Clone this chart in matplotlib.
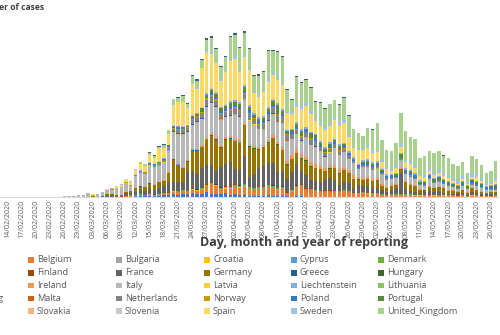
import matplotlib
matplotlib.use("Agg")
import matplotlib.pyplot as plt
from matplotlib.patches import Rectangle
import numpy as np
from datetime import date, timedelta

# ---------------------------------------------------------------------------
# Data: daily reported COVID-19 cases by country (EU/EEA and the UK)
# Every list starts on DATA_START and runs to AXIS_END (94 days).
# ---------------------------------------------------------------------------
AXIS_START = date(2019, 12, 31)
AXIS_END = date(2020, 5, 27)
DATA_START = date(2020, 2, 24)

AUSTRIA = [0, 2, 0, 1, 2, 4, 5,  4, 6, 6, 10, 12, 15, 20,  30, 50, 60, 115, 150, 150, 300,
           200, 300, 350, 400, 600, 350, 600,  600, 900, 600, 700, 1100, 700, 560,
           540, 800, 500, 560, 400, 420, 300,  250, 300, 250, 330, 250, 200, 180,
           120, 90, 120, 140, 100, 80, 70,  70, 60, 70, 70, 50, 70, 60,
           50, 50, 50, 70, 50, 60, 50,  30, 30, 50, 50, 50, 50, 30,
           30, 20, 30, 30, 30, 30, 30,  20, 20, 30, 20, 30, 20, 20,  20, 20, 20]
BELGIUM = [0, 0, 0, 0, 0, 0, 1,  0, 6, 5, 10, 60, 60, 60,  40, 60, 47, 85, 200, 130, 200,
           170, 185, 243, 309, 462, 558, 586,  342, 526, 668, 800, 1049, 1850, 1702,
           1063, 876, 1189, 1384, 1422, 1661, 1260,  1123, 1209, 1380, 1580, 1684, 1351, 1629,
           530, 1000, 1900, 2000, 1236, 1329, 1045,  900, 933, 973, 834, 900, 1032, 933,
           553, 647, 701, 600, 600, 500, 400,  300, 400, 300, 400, 350, 300, 250,
           250, 200, 300, 250, 300, 250, 200,  200, 200, 200, 150, 250, 250, 200,  200, 200, 250]
BULGARIA = [0, 0, 0, 0, 0, 0, 0,  0, 0, 0, 0, 0, 0, 4,  0, 0, 2, 1, 20, 10, 10,
            10, 20, 20, 10, 20, 20, 20,  20, 20, 20, 30, 30, 20, 20,
            20, 20, 30, 30, 40, 30, 30,  30, 30, 30, 30, 30, 30, 20,
            20, 20, 30, 30, 30, 30, 30,  30, 30, 30, 40, 30, 30, 30,
            30, 30, 30, 30, 30, 30, 30,  20, 30, 30, 30, 30, 20, 20,
            20, 20, 20, 20, 20, 20, 20,  20, 20, 20, 20, 20, 20, 20,  20, 20, 20]
CROATIA = [0, 1, 2, 0, 1, 0, 1,  0, 2, 0, 1, 1, 1, 1,  1, 2, 2, 2, 5, 6, 10,
           20, 8, 8, 20, 25, 80, 60,  80, 60, 60, 50, 50, 80, 70,
           50, 80, 70, 60, 70, 60, 40,  40, 50, 30, 40, 40, 40, 50,
           30, 20, 40, 40, 30, 20, 30,  20, 20, 20, 20, 15, 20, 10,
           10, 10, 10, 10, 10, 5, 10,  5, 5, 5, 5, 5, 5, 3,
           3, 3, 3, 3, 3, 2, 2,  2, 2, 2, 2, 2, 2, 2,  1, 1, 1]
CYPRUS = [0, 0, 0, 0, 0, 0, 0,  0, 0, 0, 0, 0, 0, 0,  2, 0, 0, 3, 6, 10, 10,
          7, 11, 12, 30, 10, 20, 20,  20, 20, 20, 30, 20, 20, 20,
          20, 30, 20, 30, 40, 30, 20,  30, 20, 20, 20, 30, 20, 20,
          10, 10, 10, 10, 10, 10, 10,  10, 10, 10, 5, 5, 5, 5,
          5, 5, 5, 5, 5, 5, 5,  3, 3, 3, 3, 3, 3, 3,
          2, 2, 2, 2, 2, 2, 2,  2, 2, 2, 2, 2, 2, 2,  2, 2, 2]
DENMARK = [0, 0, 0, 0, 1, 0, 0,  0, 0, 3, 5, 10, 8, 15,  20, 80, 250, 180, 130, 60, 40,
           40, 70, 70, 80, 80, 100, 100,  100, 100, 100, 150, 200, 150, 100,
           200, 250, 250, 350, 300, 300, 300,  250, 300, 350, 350, 250, 200, 200,
           150, 250, 200, 150, 200, 200, 150,  150, 200, 150, 200, 150, 160, 140,
           150, 140, 160, 150, 130, 150, 140,  100, 110, 150, 140, 150, 130, 130,
           100, 110, 100, 70, 80, 70, 60,  70, 50, 50, 60, 50, 50, 40,  50, 50, 50]
ESTONIA = [0, 0, 0, 0, 0, 0, 0,  0, 0, 1, 1, 2, 2, 0,  2, 3, 3, 10, 20, 20, 40,
           50, 30, 10, 50, 40, 30, 50,  20, 30, 40, 30, 40, 40, 40,
           30, 30, 30, 40, 40, 40, 30,  30, 30, 20, 30, 20, 20, 30,
           20, 20, 20, 20, 20, 20, 20,  10, 20, 10, 10, 20, 10, 10,
           5, 10, 5, 5, 10, 5, 5,  5, 5, 5, 5, 5, 5, 5,
           5, 3, 3, 3, 3, 3, 3,  3, 3, 3, 2, 2, 2, 2,  2, 2, 2]
FINLAND = [0, 0, 0, 0, 0, 0, 0,  1, 1, 3, 1, 4, 3, 8,  10, 10, 20, 20, 50, 40, 70,
           30, 50, 40, 40, 50, 70, 60,  50, 70, 80, 90, 60, 100, 70,
           100, 80, 100, 100, 100, 100, 100,  80, 70, 150, 120, 110, 120, 100,
           80, 80, 100, 150, 130, 120, 100,  100, 90, 120, 100, 140, 100, 80,
           80, 60, 100, 120, 100, 80, 70,  50, 60, 80, 70, 60, 50, 40,
           40, 60, 50, 60, 40, 50, 30,  40, 30, 30, 40, 30, 30, 20,  20, 20, 20]
FRANCE = [2, 2, 5, 4, 20, 40, 30,  30, 61, 13, 81, 200, 276, 177,  83, 575, 497, 595, 785, 838, 924,
          800, 1097, 1404, 1861, 1617, 1847, 1559,  3838, 3500, 2931, 3922, 3809, 3500, 2599,
          3900, 4500, 4861, 3100, 3000, 5500, 1873,  2800, 3777, 3881, 4286, 4342, 3114, 3000,
          2673, 3500, 4200, 2633, 2641, 1600, 1800,  1800, 2000, 2500, 2200, 1000, 1600, 1500,
          1000, 1500, 1200, 1300, 800, 900, 600,  500, 800, 1100, 4000, 1000, 600, 500,
          300, 500, 600, 500, 500, 400, 300,  300, 400, 500, 100, 600, 400, 300,  200, 300, 300]
GERMANY = [0, 2, 10, 20, 20, 30, 60,  40, 30, 52, 80, 250, 200, 150,  240, 202, 281, 802, 693, 733, 1043,
           1000, 1144, 1042, 2000, 4528, 3300, 2660,  1948, 4062, 4764, 4118, 4954, 5780, 6294,
           3965, 4751, 4615, 5453, 5300, 6174, 6082,  5000, 3677, 3834, 4003, 4974, 5323, 4133,
           2821, 2537, 2082, 2486, 2866, 2600, 2500,  2458, 1775, 1785, 2237, 2352, 2337, 2055,
           1737, 1018, 1144, 1304, 1478, 1639, 945,  793, 679, 685, 947, 1284, 1209, 1251,
           667, 357, 933, 798, 933, 913, 620,  583, 342, 513, 460, 745, 638, 431,  289, 432, 362]
GREECE = [0, 0, 1, 0, 2, 0, 0,  0, 3, 0, 2, 10, 20, 20,  4, 10, 20, 30, 50, 20, 100,
          30, 50, 50, 30, 40, 70, 100,  70, 50, 80, 50, 70, 70, 90,
          50, 70, 60, 40, 100, 80, 60,  60, 40, 50, 60, 50, 60, 40,
          40, 30, 30, 20, 20, 25, 20,  10, 15, 20, 20, 15, 10, 10,
          10, 12, 8, 10, 15, 10, 10,  10, 10, 12, 8, 10, 10, 8,
          5, 10, 8, 10, 8, 5, 5,  5, 5, 5, 3, 5, 5, 5,  5, 3, 3]
HUNGARY = [0, 0, 0, 0, 0, 0, 0,  0, 0, 2, 0, 2, 0, 3,  3, 2, 3, 3, 6, 5, 13,
           7, 11, 11, 23, 30, 12, 24,  20, 20, 40, 40, 30, 40, 40,
           20, 50, 45, 60, 40, 30, 40,  60, 70, 60, 100, 80, 80, 70,
           60, 50, 100, 90, 100, 70, 60,  60, 50, 80, 100, 90, 80, 60,
           50, 40, 80, 50, 50, 40, 30,  40, 30, 30, 40, 40, 30, 30,
           20, 30, 30, 30, 30, 20, 20,  20, 20, 20, 30, 20, 20, 20,  10, 20, 20]
ICELAND = [0, 0, 0, 0, 0, 0, 0,  1, 2, 5, 10, 10, 10, 5,  20, 20, 15, 20, 20, 20, 20,
           20, 30, 30, 20, 20, 50, 50,  80, 80, 70, 70, 90, 80, 90,
           80, 70, 60, 70, 80, 50, 60,  30, 30, 30, 20, 30, 20, 20,
           10, 10, 10, 10, 10, 10, 5,  5, 5, 3, 3, 2, 2, 1,
           1, 1, 1, 1, 0, 1, 0,  0, 0, 1, 0, 0, 0, 0,
           0, 0, 1, 0, 0, 0, 0,  0, 0, 0, 1, 0, 0, 0,  0, 0, 0]
IRELAND = [0, 0, 0, 0, 0, 0, 1,  0, 1, 0, 4, 1, 8, 5,  2, 4, 10, 9, 27, 20, 40,
           40, 40, 70, 190, 100, 126, 100,  200, 200, 200, 250, 300, 300, 300,
           200, 300, 300, 400, 400, 400, 300,  400, 350, 350, 400, 500, 450, 500,
           550, 800, 700, 800, 700, 800, 700,  500, 600, 400, 600, 900, 500, 400,
           700, 400, 400, 300, 300, 300, 300,  200, 200, 200, 150, 200, 200, 200,
           100, 100, 100, 100, 100, 100, 60,  60, 50, 60, 50, 60, 50, 40,  40, 40, 40]
ITALY = [70, 77, 93, 125, 205, 238, 240,  566, 342, 466, 587, 769, 778, 1247,
         1492, 1797, 977, 2313, 2651, 2547, 3497,  3590, 3233, 3526, 4207, 5322, 5986, 6557,
         5560, 4789, 5249, 5210, 6153, 5959, 5974,  5217, 4050, 4053, 4782, 4668, 4585, 4805,
         4316, 3599, 3039, 3836, 4204, 3951, 4694,  4092, 3153, 2972, 2667, 3786, 3493, 3491,
         3047, 2256, 2729, 3370, 2646, 3021, 2357,  2324, 1739, 2091, 2086, 1872, 1965, 1900,
         1389, 1221, 1075, 1444, 1401, 1327, 1083,  802, 744, 1402, 888, 992, 789, 875,
         675, 451, 813, 665, 642, 652, 669,  531, 300, 397]
LATVIA = [0, 0, 0, 0, 0, 0, 0,  0, 0, 1, 0, 0, 0, 1,  0, 4, 4, 5, 5, 10, 20,
          20, 20, 20, 30, 20, 30, 20,  20, 20, 30, 30, 20, 30, 20,
          20, 20, 30, 20, 20, 20, 20,  20, 20, 10, 20, 20, 20, 10,
          10, 10, 10, 10, 10, 10, 10,  10, 10, 10, 10, 10, 10, 10,
          5, 5, 10, 5, 5, 5, 5,  5, 5, 5, 5, 5, 5, 5,
          5, 5, 5, 3, 3, 3, 3,  3, 3, 3, 3, 3, 3, 3,  3, 3, 3]
LIECHTENSTEIN = [0, 0, 0, 0, 0, 0, 0,  0, 0, 0, 0, 0, 0, 0,  0, 0, 0, 0, 1, 1, 2,
                 2, 3, 2, 3, 5, 5, 5,  5, 5, 5, 5, 5, 5, 3,
                 3, 3, 3, 3, 2, 2, 2,  1, 1, 1, 1, 1, 1, 1,
                 1, 0, 1, 0, 0, 1, 0,  0, 0, 0, 1, 0, 0, 0,
                 0, 0, 0, 0, 0, 0, 0,  0, 0, 0, 0, 0, 0, 0,
                 0, 0, 0, 0, 0, 0, 0,  0, 0, 0, 0, 0, 0, 0,  0, 0, 0]
LITHUANIA = [0, 0, 0, 0, 0, 0, 0,  0, 0, 0, 0, 0, 0, 1,  0, 0, 2, 0, 1, 5, 4,
             10, 10, 10, 20, 20, 20, 30,  30, 30, 40, 40, 50, 30, 40,
             40, 40, 40, 40, 40, 50, 30,  40, 30, 40, 40, 40, 40, 30,
             20, 30, 30, 30, 20, 20, 20,  20, 20, 20, 20, 20, 20, 10,
             10, 10, 10, 10, 10, 10, 10,  10, 10, 10, 10, 10, 10, 10,
             10, 10, 10, 5, 5, 5, 5,  5, 5, 5, 5, 5, 5, 5,  5, 5, 5]
LUXEMBOURG = [0, 0, 0, 0, 0, 0, 0,  0, 0, 0, 0, 1, 2, 1,  0, 2, 2, 3, 12, 12, 20,
              30, 60, 60, 140, 120, 150, 180,  150, 150, 180, 140, 190, 180, 150,
              180, 150, 100, 150, 130, 120, 100,  70, 60, 80, 90, 70, 60, 80,
              60, 50, 30, 40, 60, 50, 40,  20, 30, 30, 20, 30, 20, 20,
              10, 10, 20, 15, 10, 20, 15,  10, 12, 10, 8, 10, 10, 9,
              5, 10, 5, 10, 5, 5, 5,  5, 6, 5, 5, 4, 5, 5,  5, 5, 5]
MALTA = [0, 0, 0, 0, 0, 0, 0,  0, 0, 0, 0, 0, 1, 2,  0, 1, 3, 0, 6, 6, 6,
         10, 10, 10, 10, 10, 20, 10,  10, 10, 10, 10, 10, 20, 10,
         10, 10, 10, 10, 10, 10, 10,  10, 10, 10, 10, 10, 10, 10,
         5, 5, 5, 5, 5, 5, 5,  5, 5, 5, 5, 3, 3, 3,
         3, 3, 3, 3, 3, 3, 3,  3, 3, 3, 3, 3, 3, 3,
         3, 2, 2, 2, 2, 2, 2,  2, 2, 2, 2, 2, 2, 2,  2, 2, 2]
NETHERLANDS = [0, 0, 0, 1, 1, 5, 3,  8, 6, 14, 20, 45, 80, 60,  70, 60, 100, 120, 190, 155, 176,
               278, 292, 346, 409, 534, 637, 573,  545, 811, 852, 1019, 1172, 1159, 1104,
               884, 845, 1019, 1083, 1026, 904, 1224,  952, 777, 969, 1213, 1130, 1316, 1321,
               1174, 964, 867, 734, 1061, 1140, 1066,  750, 750, 729, 770, 887, 655, 655,
               400, 171, 386, 386, 514, 475, 335,  335, 199, 232, 450, 230, 320, 230,
               200, 200, 200, 190, 250, 200, 200,  170, 90, 190, 200, 230, 200, 200,  160, 150, 170]
NORWAY = [0, 0, 0, 0, 1, 0, 3,  10, 8, 20, 30, 60, 80, 30,  30, 50, 150, 100, 200, 150, 150,
          100, 100, 100, 200, 200, 200, 200,  200, 200, 200, 250, 300, 350, 250,
          250, 250, 250, 250, 200, 200, 200,  150, 150, 150, 100, 100, 100, 100,
          80, 60, 60, 70, 60, 70, 50,  50, 40, 60, 50, 40, 50, 40,
          50, 30, 30, 30, 20, 30, 30,  20, 20, 30, 20, 20, 20, 20,
          20, 10, 10, 10, 10, 10, 10,  10, 10, 10, 10, 10, 10, 10,  10, 10, 10]
POLAND = [0, 0, 0, 0, 0, 0, 0,  0, 0, 1, 0, 4, 1, 5,  5, 6, 9, 20, 30, 40, 40,
          50, 60, 60, 70, 100, 100, 100,  100, 150, 150, 170, 200, 250, 230,
          200, 250, 250, 250, 400, 400, 450,  300, 400, 350, 350, 350, 350, 300,
          250, 300, 400, 300, 400, 350, 500,  400, 250, 350, 300, 350, 400, 300,
          300, 300, 300, 400, 350, 400, 300,  300, 400, 350, 300, 300, 300, 350,
          300, 350, 300, 300, 300, 350, 350,  300, 250, 350, 250, 400, 400, 400,  300, 400, 400]
PORTUGAL = [0, 0, 0, 0, 0, 0, 0,  2, 2, 4, 3, 5, 8, 10,  9, 11, 12, 20, 30, 60, 80,
            100, 130, 200, 200, 240, 260, 320,  230, 300, 300, 500, 550, 700, 800,
            790, 650, 1000, 800, 750, 850, 750,  450, 700, 700, 600, 800, 1500, 600,
            350, 350, 600, 750, 200, 650, 600,  400, 500, 500, 400, 600, 400, 200,
            200, 180, 300, 400, 300, 200, 200,  100, 150, 200, 500, 300, 500, 300,
            200, 300, 200, 250, 300, 200, 200,  150, 200, 200, 150, 250, 250, 200,  150, 200, 300]
ROMANIA = [0, 0, 0, 0, 0, 0, 0,  0, 0, 1, 1, 0, 3, 2,  2, 3, 5, 10, 20, 20, 30,
           30, 40, 40, 40, 60, 70, 60,  70, 150, 100, 150, 250, 250, 300,
           200, 250, 300, 300, 350, 300, 300,  300, 300, 400, 350, 350, 350, 400,
           300, 250, 400, 400, 300, 350, 300,  400, 350, 400, 300, 350, 250, 300,
           300, 250, 350, 300, 300, 350, 300,  300, 300, 300, 300, 300, 250, 250,
           250, 200, 200, 200, 200, 200, 200,  150, 150, 150, 150, 150, 150, 150,  150, 150, 150]
SLOVAKIA = [0, 0, 0, 0, 0, 0, 0,  0, 0, 0, 0, 1, 0, 2,  1, 3, 3, 5, 10, 10, 30,
            10, 30, 20, 30, 20, 30, 30,  20, 30, 20, 20, 20, 40, 30,
            30, 40, 40, 40, 40, 30, 30,  30, 30, 40, 40, 40, 30, 20,
            20, 20, 20, 30, 20, 20, 10,  10, 10, 10, 10, 10, 10, 5,
            5, 5, 5, 5, 5, 5, 5,  5, 5, 3, 3, 3, 3, 3,
            3, 3, 3, 3, 3, 3, 3,  3, 2, 2, 2, 2, 2, 2,  2, 2, 2]
SLOVENIA = [0, 0, 0, 0, 0, 0, 0,  0, 0, 0, 1, 2, 5, 4,  9, 6, 8, 30, 50, 40, 40,
            30, 30, 40, 30, 40, 40, 60,  30, 40, 50, 50, 30, 50, 30,
            30, 40, 40, 40, 40, 30, 30,  20, 20, 20, 20, 30, 20, 20,
            20, 10, 20, 10, 20, 10, 10,  10, 10, 10, 10, 10, 5, 5,
            5, 5, 5, 5, 5, 5, 5,  3, 3, 2, 3, 2, 3, 2,
            2, 2, 3, 2, 2, 2, 2,  2, 2, 2, 2, 2, 2, 2,  2, 2, 2]
SPAIN = [0, 4, 3, 7, 8, 20, 30,  36, 45, 57, 37, 141, 100, 300,  400, 622, 582, 869, 1300, 1159, 1407,
         1200, 2700, 2100, 2162, 4053, 4800, 4964,  3394, 6368, 4749, 7800, 8271, 6800, 5800,
         5100, 6500, 7967, 8195, 6000, 5600, 6969,  4000, 4000, 4700, 5000, 4900, 4576, 4830,
         3300, 3000, 3045, 4000, 4200, 3500, 2500,  3000, 3300, 3200, 3600, 3500, 4000, 2900,
         1729, 2700, 1900, 2200, 1800, 1800, 1300,  1000, 600, 900, 1100, 1200, 1300, 1100,
         800, 600, 700, 600, 600, 500, 500,  400, 300, 500, 300, 500, 800, 400,  300, 300, 600]
SWEDEN = [0, 0, 0, 1, 0, 1, 7,  1, 1, 15, 20, 26, 37, 24,  40, 50, 100, 150, 120, 100, 150,
          100, 100, 130, 150, 200, 150, 150,  100, 200, 250, 250, 300, 400, 300,
          330, 300, 450, 500, 450, 450, 400,  350, 400, 500, 700, 500, 500, 400,
          300, 350, 700, 500, 600, 700, 600,  400, 500, 500, 700, 800, 600, 400,
          300, 400, 600, 700, 600, 500, 400,  300, 300, 600, 700, 600, 600, 500,
          300, 400, 600, 500, 600, 600, 600,  400, 500, 600, 300, 700, 600, 600,  300, 300, 600]
UNITED_KINGDOM = [0, 0, 0, 2, 5, 3, 12,  13, 4, 11, 34, 30, 48, 43,  67, 48, 61, 83, 134, 208, 342,
                  251, 152, 407, 676, 1000, 714, 1035,  665, 1400, 1427, 1452, 2129, 2885, 2546,
                  2433, 2619, 4300, 4324, 4244, 4450, 3735,  3000, 3802, 3634, 5491, 4344, 5195, 5288,
                  4342, 2500, 5252, 4603, 4617, 4500, 3300,  4200, 3800, 3800, 3300, 3500, 4500, 3800,
                  3500, 3000, 2300, 3300, 4100, 5300, 4000,  3500, 3600, 4406, 6111, 5614, 4649, 5200,
                  3400, 3877, 3403, 3900, 3900, 3560, 3451,  2978, 3000, 2684, 1800, 3400, 3000, 2700,
                  2100, 2200, 3500]
CZECHIA = [0, 0, 0, 0, 0, 0, 0,  3, 0, 2, 3, 7, 4, 7,  8, 10, 20, 30, 30, 50, 100,
           100, 100, 80, 60, 100, 150, 200,  200, 150, 250, 250, 250, 400, 250,
           250, 200, 300, 300, 250, 250, 200,  200, 250, 200, 250, 200, 250, 200,
           200, 150, 200, 250, 150, 150, 150,  100, 100, 150, 100, 100, 100, 50,
           50, 60, 50, 40, 50, 50, 40,  40, 40, 40, 50, 40, 40, 30,
           30, 30, 30, 30, 30, 30, 30,  30, 20, 30, 20, 30, 30, 20,  20, 20, 20]

# Names shown in the legend, in stacking order (bottom to top)
COUNTRIES = ["Austria", "Belgium", "Bulgaria", "Croatia", "Cyprus", "Denmark",
             "Estonia", "Finland", "France", "Germany", "Greece", "Hungary",
             "Iceland", "Ireland", "Italy", "Latvia", "Liechtenstein", "Lithuania",
             "Luxembourg", "Malta", "Netherlands", "Norway", "Poland", "Portugal",
             "Romania", "Slovakia", "Slovenia", "Spain", "Sweden", "United_Kingdom"]

SERIES = {
    "Austria": AUSTRIA, "Belgium": BELGIUM, "Bulgaria": BULGARIA, "Croatia": CROATIA,
    "Cyprus": CYPRUS, "Denmark": DENMARK, "Estonia": ESTONIA, "Finland": FINLAND,
    "France": FRANCE, "Germany": GERMANY, "Greece": GREECE, "Hungary": HUNGARY,
    "Iceland": ICELAND, "Ireland": IRELAND, "Italy": ITALY, "Latvia": LATVIA,
    "Liechtenstein": LIECHTENSTEIN, "Lithuania": LITHUANIA, "Luxembourg": LUXEMBOURG,
    "Malta": MALTA, "Netherlands": NETHERLANDS, "Norway": NORWAY, "Poland": POLAND,
    "Portugal": PORTUGAL, "Romania": ROMANIA, "Slovakia": SLOVAKIA, "Slovenia": SLOVENIA,
    "Spain": SPAIN, "Sweden": SWEDEN, "United_Kingdom": UNITED_KINGDOM, "Czechia": CZECHIA,
}

COLORS = {
    "Austria": "#4472C4", "Belgium": "#ED7D31", "Bulgaria": "#A5A5A5", "Croatia": "#FFC000",
    "Cyprus": "#5B9BD5", "Denmark": "#70AD47", "Estonia": "#264478", "Finland": "#9E480E",
    "France": "#636363", "Germany": "#997300", "Greece": "#255E91", "Hungary": "#43682B",
    "Iceland": "#698ED0", "Ireland": "#F1975A", "Italy": "#B7B7B7", "Latvia": "#FFCD33",
    "Liechtenstein": "#7CAFDD", "Lithuania": "#8CC168", "Luxembourg": "#335AA1",
    "Malta": "#D26012", "Netherlands": "#848484", "Norway": "#CC9A00", "Poland": "#327DC2",
    "Portugal": "#5A8A39", "Romania": "#8FAADC", "Slovakia": "#F4B183", "Slovenia": "#C9C9C9",
    "Spain": "#FFD966", "Sweden": "#9DC3E6", "United_Kingdom": "#A9D18E", "Czechia": "#3E5C7E",
}
STACK_ORDER = COUNTRIES + ["Czechia"]

# ---------------------------------------------------------------------------
# Layout, in pixels of a 500 x 335 canvas
# ---------------------------------------------------------------------------
W_PX, H_PX, DPI = 500, 335, 100
DAY_PX = 4.74                 # width of one day on the category axis
LAST_CENTER_PX = 491 + DAY_PX  # centre of the final category
BASE_PX = 197                 # y of the category axis line (from top)
PLOT_H_PX = 176
CASES_PER_PX = 200

TEXT = "#595959"
FONT = "Open Sans"


def fx(px):
    return px / W_PX


def fy(py):
    return 1 - py / H_PX


n_days = (AXIS_END - AXIS_START).days + 1
start = (DATA_START - AXIS_START).days
plot_left = LAST_CENTER_PX - (n_days - 0.5) * DAY_PX
plot_w = n_days * DAY_PX

fig = plt.figure(figsize=(W_PX / DPI, H_PX / DPI), dpi=DPI)
ax = fig.add_axes([fx(plot_left), fy(BASE_PX), plot_w / W_PX, PLOT_H_PX / H_PX])

x = np.arange(start, start + len(ITALY))
bottom = np.zeros(len(x))
for name in STACK_ORDER:
    vals = np.asarray(SERIES[name], dtype=float)
    ax.bar(x, vals, width=0.72, bottom=bottom, color=COLORS[name], linewidth=0)
    bottom += vals

ax.set_xlim(-0.5, n_days - 0.5)
ax.set_ylim(0, PLOT_H_PX * CASES_PER_PX)
for side in ("left", "right", "top"):
    ax.spines[side].set_visible(False)
ax.spines["bottom"].set_color("#D9D9D9")
ax.spines["bottom"].set_linewidth(0.8)
ax.set_yticks([])

tick_pos = np.arange(0, n_days, 3)
tick_lab = [(AXIS_START + timedelta(days=int(i))).strftime("%d/%m/%Y") for i in tick_pos]
ax.set_xticks(tick_pos)
ax.set_xticklabels(tick_lab, rotation=90, fontsize=5.15, color=TEXT, family=FONT)
ax.tick_params(axis="x", length=0, pad=2.3)

# Axis titles
fig.text(fx(44), fy(7), "Number of cases", ha="right", va="center",
         fontsize=6.1, fontweight="bold", color="#404040", family=FONT)
fig.text(fx(304), fy(242.5), "Day, month and year of reporting", ha="center", va="center",
         fontsize=9.0, fontweight="bold", color="#404040", family=FONT)

# Legend: 6 columns x 5 rows, filled row by row
COL_X = [-59.5, 28, 116, 204, 291, 378]
ROW_Y = [260, 272.8, 285.6, 298.3, 311]
SQ = 5.5
for k, name in enumerate(COUNTRIES):
    r, c = divmod(k, 6)
    x0, y0 = COL_X[c], ROW_Y[r]
    fig.add_artist(Rectangle((fx(x0), fy(y0 + SQ / 2)), SQ / W_PX, SQ / H_PX,
                             transform=fig.transFigure, facecolor=COLORS[name],
                             edgecolor="none"))
    fig.text(fx(x0 + SQ + 3.5), fy(y0), name, ha="left", va="center",
             fontsize=6.6, color=TEXT, family=FONT)

fig.savefig("out.png", dpi=DPI)
